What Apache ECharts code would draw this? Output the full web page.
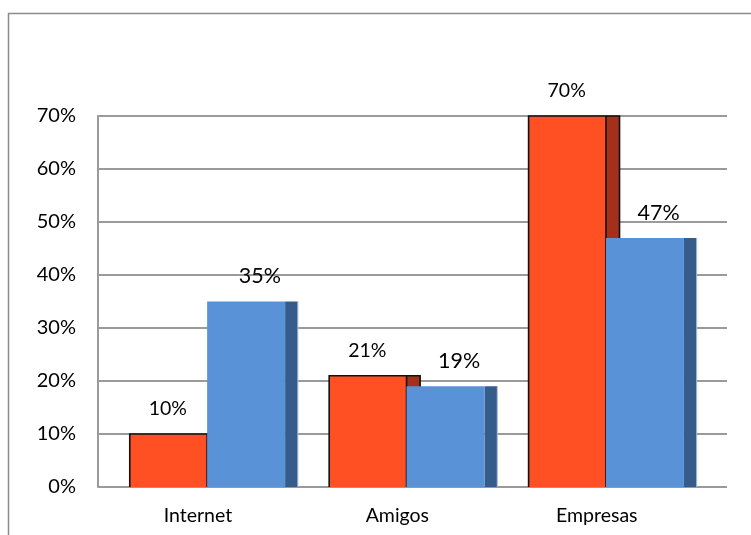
<!DOCTYPE html>
<html>
<head>
<meta charset="utf-8">
<style>
  html, body { margin: 0; padding: 0; background: #fff; }
  #chart { width: 751px; height: 535px; }
</style>
<script src="https://cdn.jsdelivr.net/npm/echarts@6/dist/echarts.min.js"></script>
</head>
<body>
<div id="chart"></div>
<script>
// Categories and the two percentage series (as fractions)
const categories = ['Internet', 'Amigos', 'Empresas'];
const seriesOrange = [0.10, 0.21, 0.70];
const seriesBlue = [0.35, 0.19, 0.47];
const yTicks = [0, 0.1, 0.2, 0.3, 0.4, 0.5, 0.6, 0.7];

const FONT = 'Lato';
const pct = v => Math.round(v * 100) + '%';

// Geometry of a pseudo-3D column inside its category band (fractions of band width)
const SHAPE = {
  orange: { start: 0.158, width: 0.388, side: 0.068, labelAt: 0.349, fontSize: 19.5,
            front: '#ff5024', sideFill: '#a3301a', stroke: '#111', lineWidth: 1.6 },
  blue:   { start: 0.546, width: 0.391, side: 0.064, labelAt: 0.81, fontSize: 21.5,
            front: '#5a92d8', sideFill: '#365c8c', stroke: null, lineWidth: 0 }
};

function makeRender(cfg) {
  return function (params, api) {
    const idx = api.value(0);
    const val = api.value(1);
    const top = api.coord([idx, val]);
    const base = api.coord([idx, 0]);
    const band = api.size([1, 0])[0];
    const bandStart = top[0] - band / 2;
    const x0 = bandStart + cfg.start * band;
    const w = cfg.width * band;
    const sw = cfg.side * band;
    const y0 = top[1];
    const y1 = base[1];
    const children = [];
    // side face
    children.push({
      type: 'rect',
      shape: { x: x0 + w, y: y0, width: sw, height: y1 - y0 },
      style: { fill: cfg.sideFill }
    });
    if (cfg.stroke) {
      children.push({
        type: 'polyline',
        shape: { points: [[x0 + w, y0], [x0 + w + sw, y0], [x0 + w + sw, y1]] },
        style: { fill: null, stroke: cfg.stroke, lineWidth: cfg.lineWidth }
      });
    } else {
      children.push({
        type: 'line',
        shape: { x1: x0 + w + sw, y1: y0, x2: x0 + w + sw, y2: y1 },
        style: { stroke: '#a9bfdc', lineWidth: 1 }
      });
    }
    // front face
    children.push({
      type: 'rect',
      shape: { x: x0, y: y0, width: w, height: y1 - y0 },
      style: { fill: cfg.front }
    });
    if (cfg.stroke) {
      children.push({
        type: 'polyline',
        shape: { points: [[x0, y1], [x0, y0], [x0 + w, y0], [x0 + w, y1]] },
        style: { fill: null, stroke: cfg.stroke, lineWidth: cfg.lineWidth }
      });
    }
    // value label
    children.push({
      type: 'text',
      x: bandStart + cfg.labelAt * band,
      y: y0 - 25,
      style: {
        text: pct(val),
        fill: '#000',
        font: cfg.fontSize + 'px ' + FONT,
        align: 'center',
        verticalAlign: 'middle'
      }
    });
    return { type: 'group', children: children };
  };
}

const chart = echarts.init(document.getElementById('chart'), null, { renderer: 'canvas' });

const option = {
  backgroundColor: '#ffffff',
  animation: false,
  grid: [
    // back wall with gridlines
    { left: 98, right: 24, top: 116, bottom: 48, containLabel: false },
    // floor where the columns stand
    { left: 98.25, right: 54.5, top: 116, bottom: 48, containLabel: false }
  ],
  xAxis: [
    { gridIndex: 0, type: 'category', data: categories, show: false },
    {
      gridIndex: 1, type: 'category', data: categories,
      axisLine: { show: false }, axisTick: { show: false },
      axisLabel: { color: '#000', fontFamily: FONT, fontSize: 19.5, margin: 19 }
    }
  ],
  yAxis: [
    {
      gridIndex: 0, type: 'value', min: 0, max: 0.7, interval: 0.1,
      axisLine: { show: true, lineStyle: { color: '#9a9a9a', width: 2 } },
      axisTick: { show: false },
      splitLine: { show: true, lineStyle: { color: '#9a9a9a', width: 2 } },
      axisLabel: {
        color: '#000', fontFamily: FONT, fontSize: 20, margin: 22,
        formatter: v => yTicks.some(t => Math.abs(t - v) < 1e-9) ? pct(v) : ''
      }
    },
    { gridIndex: 1, type: 'value', min: 0, max: 0.7, interval: 0.1, show: false }
  ],
  graphic: [
    { type: 'line', shape: { x1: 8, y1: 13.5, x2: 760, y2: 13.5 },
      style: { stroke: '#8c8c8c', lineWidth: 1.5 }, z: 10 },
    { type: 'line', shape: { x1: 8.5, y1: 13, x2: 8.5, y2: 540 },
      style: { stroke: '#8c8c8c', lineWidth: 1.5 }, z: 10 }
  ],
  series: [
    {
      type: 'custom', name: 'orange', xAxisIndex: 1, yAxisIndex: 1, z: 3,
      renderItem: makeRender(SHAPE.orange),
      data: seriesOrange.map((v, i) => [i, v])
    },
    {
      type: 'custom', name: 'blue', xAxisIndex: 1, yAxisIndex: 1, z: 4,
      renderItem: makeRender(SHAPE.blue),
      data: seriesBlue.map((v, i) => [i, v])
    }
  ]
};

chart.setOption(option);
</script>
</body>
</html>
